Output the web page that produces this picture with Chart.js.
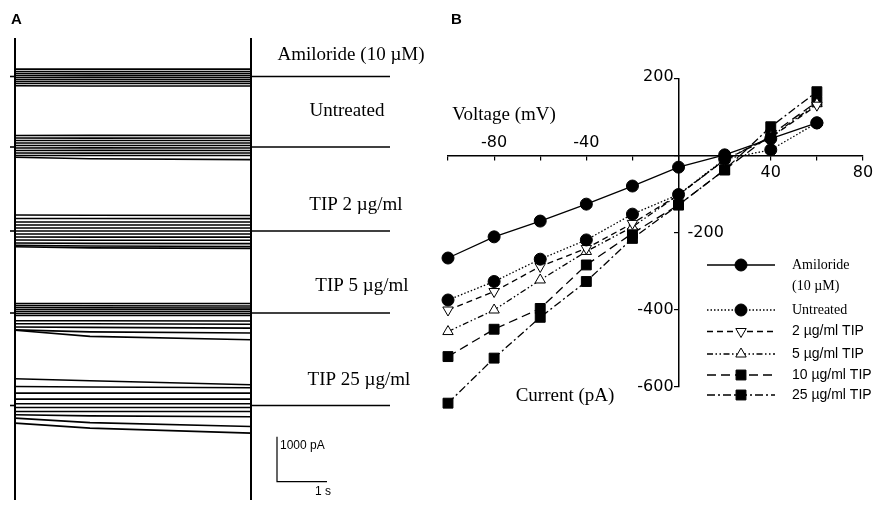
<!DOCTYPE html>
<html><head><meta charset="utf-8">
<script src="https://cdn.jsdelivr.net/npm/chart.js@4/dist/chart.umd.min.js"></script>
<style>
html,body{margin:0;padding:0;background:#fff;}
#wrap{position:relative;width:874px;height:506px;overflow:hidden;background:#fff;}
#ca{position:absolute;left:0;top:0;}
#cb{position:absolute;left:440px;top:0;}
</style></head><body>
<div id="wrap"><canvas id="ca" width="440" height="506"></canvas><canvas id="cb" width="434" height="506"></canvas></div>
<script>
// ================= DATA =================
// ---- Panel A: whole-cell current traces (pA, relative to holding current) ----
const groupLabels = ['Amiloride (10 µM)', 'Untreated', 'TIP 2 µg/ml', 'TIP 5 µg/ml', 'TIP 25 µg/ml'];
const sampleTimes = [0, 1.5, 4.72];        // s, times at which each trace was read
const stepDuration = 4.72;                 // s, voltage step length
const holdBefore = 0.1;                    // s shown before step
const holdAfter = 2.78;                    // s shown after step
const scaleBarCurrent = 1000;              // pA
const scaleBarTime = 1;                    // s

const tracesAmiloride = [[165,165,165],[110,112,110],[68,66,68],[22,24,22],[-22,-20,-22],[-67,-66,-67],[-111,-110,-111],[-155,-156,-155],[-205,-210,-211]];
const tracesUntreated = [[255,258,255],[200,198,200],[144,146,144],[89,90,89],[33,35,33],[-22,-20,-22],[-78,-76,-78],[-133,-135,-133],[-189,-190,-189],[-229,-262,-280]];
const tracesTip2 = [[355,350,345],[278,278,275],[200,200,200],[133,133,133],[67,67,67],[0,0,0],[-67,-67,-67],[-133,-135,-135],[-200,-205,-205],[-266,-275,-280],[-320,-335,-345],[-350,-375,-385]];
const tracesTip5 = [[211,211,211],[166,160,155],[122,118,111],[78,78,78],[33,33,33],[-11,-11,-11],[-55,-55,-55],[-171,-171,-178],[-238,-240,-250],[-311,-320,-335],[-375,-420,-444],[-385,-520,-593]];
const tracesTip25 = [[593,549,460],[422,410,393],[276,276,276],[142,142,142],[38,38,38],[-44,-44,-44],[-133,-133,-133],[-207,-230,-251],[-280,-380,-467],[-391,-502,-613]];

// ---- Panel B: I-V relationship ----
const voltages = [-100, -80, -60, -40, -20, 0, 20, 40, 60];   // mV
const ivAmiloride = [-265, -210, -169, -125, -78, -29, 3, 45, 86];
const ivUntreated = [-374, -326, -268, -218, -151, -100, -8, 16, 86];
const ivTip2 = [-400, -352, -287, -240, -175, -101, -10, 48, 132];
const ivTip5 = [-456, -400, -322, -248, -184, -101, -10, 50, 136];
const ivTip10 = [-521, -450, -396, -283, -201, -127, -36, 55, 141];
const ivTip25 = [-642, -525, -419, -326, -214, -127, -36, 76, 167];
const ivLabels = ['Amiloride', 'Untreated', '2 µg/ml TIP', '5 µg/ml TIP', '10 µg/ml TIP', '25 µg/ml TIP'];
const xTickLabels = [-80, -40, 40, 80];
const yTickLabels = [200, -200, -400, -600];

// ================= LAYOUT / STYLE =================
const SERIF = '"Liberation Serif", "Times New Roman", serif';
const SANS = '"Liberation Sans", Arial, sans-serif';
const PA_PER_PX = 1000 / 45;
const groupBasePx = [76.5, 147, 231, 313, 405.5];
const T0_PX = 15, PX_PER_S = 50;
const frameTopPx = 38, frameBottomPx = 500;
const scaleBarCornerT = 5.24, scaleBarCornerPx = 481.7;
const groupLabelPos = [[351, 55], [347, 111], [356, 205], [362, 286], [359, 380]];

// ================= PANEL A =================
const allTraces = [tracesAmiloride, tracesUntreated, tracesTip2, tracesTip5, tracesTip25];
const dsA = [];
const line = (data, w) => ({data, borderColor:'#000', borderWidth:w, pointRadius:0, tension:0, fill:false, clip:false});
allTraces.forEach((traces, k) => {
  const off = -groupBasePx[k] * PA_PER_PX;
  traces.forEach(tr => dsA.push(line(sampleTimes.map((t, i) => ({x:t, y:off + tr[i]})), 1.6)));
  dsA.push(line([{x:-holdBefore, y:off}, {x:0, y:off}], 1.6));
  dsA.push(line([{x:stepDuration, y:off}, {x:stepDuration + holdAfter, y:off}], 1.6));
});
[0, stepDuration].forEach(t => dsA.push(line([{x:t, y:-frameTopPx*PA_PER_PX}, {x:t, y:-frameBottomPx*PA_PER_PX}], 2)));
{
  const c = -scaleBarCornerPx * PA_PER_PX;
  dsA.push(line([{x:scaleBarCornerT, y:c + scaleBarCurrent}, {x:scaleBarCornerT, y:c}, {x:scaleBarCornerT + scaleBarTime, y:c}], 1.2));
}

const textA = {
  id:'textA',
  afterDraw(chart){
    const ctx = chart.ctx; ctx.save(); ctx.fillStyle = '#000';
    ctx.textBaseline = 'middle';
    ctx.font = 'bold 15px ' + SANS; ctx.textAlign = 'left'; ctx.fillText('A', 11, 20);
    ctx.font = '19px ' + SERIF; ctx.textAlign = 'center';
    groupLabels.forEach((l, k) => ctx.fillText(l, groupLabelPos[k][0], groupLabelPos[k][1]));
    ctx.font = '12px ' + SANS; ctx.textAlign = 'left';
    ctx.fillText(scaleBarCurrent + ' pA', 280, 446);
    ctx.fillText(scaleBarTime + ' s', 315, 492);
    ctx.restore();
  }
};

new Chart(document.getElementById('ca'), {
  type:'line',
  data:{datasets:dsA},
  options:{
    responsive:false, animation:false, devicePixelRatio:1,
    layout:{padding:0},
    plugins:{legend:{display:false}, tooltip:{enabled:false}},
    scales:{
      x:{type:'linear', display:false, min:-T0_PX/PX_PER_S, max:(440 - T0_PX)/PX_PER_S},
      y:{type:'linear', display:false, min:-506*PA_PER_PX, max:0}
    }
  },
  plugins:[textA]
});

// ================= PANEL B =================
const ivSeries = [
  {v:ivAmiloride, dash:[], style:'circle', rot:0, r:6, fill:'#000'},
  {v:ivUntreated, dash:[1.5,2], style:'circle', rot:0, r:6, fill:'#000'},
  {v:ivTip2, dash:[6,4], style:'triangle', rot:180, r:6, fill:'#fff'},
  {v:ivTip5, dash:[6,2.5,1.5,2.5,1.5,2.5], style:'triangle', rot:0, r:6, fill:'#fff'},
  {v:ivTip10, dash:[9,5], style:'rect', rot:0, r:7, fill:'#000'},
  {v:ivTip25, dash:[8,3,2,3], style:'rect', rot:0, r:7, fill:'#000'}
];
const dsB = ivSeries.map((s, k) => ({
  label: ivLabels[k],
  data: voltages.map((v, i) => ({x:v, y:s.v[i]})),
  borderColor:'#000', borderWidth:1.3, borderDash:s.dash, tension:0, fill:false, clip:false,
  pointStyle:s.style, pointRotation:s.rot, pointRadius:s.r, pointBackgroundColor:s.fill,
  pointBorderColor:'#000', pointBorderWidth:1
}));

// draw point elements lying beyond the axis range (e.g. -642 pA) that Chart.js skips
const outsidePoints = {
  id:'outsidePoints',
  afterDatasetsDraw(chart){
    const a = chart.chartArea, big = {left:-1e4, right:1e4, top:-1e4, bottom:1e4};
    chart.data.datasets.forEach((d, i) => {
      chart.getDatasetMeta(i).data.forEach(el => {
        if (el.x < a.left - 1 || el.x > a.right + 1 || el.y < a.top - 1 || el.y > a.bottom + 1) el.draw(chart.ctx, big);
      });
    });
  }
};

const legendRows = [265, 310, 331.5, 354, 375, 395];
const textB = {
  id:'textB',
  afterDraw(chart){
    const ctx = chart.ctx, xs = chart.scales.x, ys = chart.scales.y;
    const x0 = xs.getPixelForValue(0), y0 = ys.getPixelForValue(0);
    ctx.save(); ctx.fillStyle = '#000'; ctx.strokeStyle = '#000';
    ctx.textBaseline = 'middle';
    ctx.font = 'bold 15px ' + SANS; ctx.textAlign = 'left'; ctx.fillText('B', 11, 20);
    // tick labels
    ctx.font = '16px "DejaVu Sans", ' + SANS;
    ctx.textAlign = 'center';
    xTickLabels.forEach(v => {
      const px = xs.getPixelForValue(v);
      ctx.fillText(String(v), px, v < 0 ? y0 - 13 : y0 + 17);
    });
    yTickLabels.forEach(v => {
      const py = ys.getPixelForValue(v);
      if (v === -200) { ctx.textAlign = 'left'; ctx.fillText(String(v), x0 + 9, py); }
      else { ctx.textAlign = 'right'; ctx.fillText(String(v), x0 - 5, py - (v === 200 ? 2 : 0)); }
    });
    // axis titles
    ctx.font = '19px ' + SERIF; ctx.textAlign = 'center';
    ctx.fillText('Voltage (mV)', 64, 115);
    ctx.fillText('Current (pA)', 125, 396);
    // legend
    const lx0 = 267, lx1 = 335, mx = 301, tx = 352;
    dsB.forEach((d, k) => {
      const y = legendRows[k];
      ctx.lineWidth = 1.3; ctx.setLineDash(d.borderDash);
      ctx.beginPath(); ctx.moveTo(lx0, y); ctx.lineTo(lx1, y); ctx.stroke();
      ctx.setLineDash([]);
      ctx.fillStyle = d.pointBackgroundColor; ctx.lineWidth = 1;
      Chart.helpers.drawPoint(ctx, {pointStyle:d.pointStyle, rotation:d.pointRotation, radius:d.pointRadius, borderWidth:1}, mx, y);
      ctx.fillStyle = '#000';
      ctx.textAlign = 'left';
      if (k < 2) { ctx.font = '14px ' + SERIF; } else { ctx.font = '14px ' + SANS; }
      ctx.fillText(d.label, tx, y);
      if (k === 0) ctx.fillText('(10 µM)', tx, 286);
    });
    ctx.restore();
  }
};

new Chart(document.getElementById('cb'), {
  type:'line',
  data:{datasets:dsB},
  options:{
    responsive:false, animation:false, devicePixelRatio:1,
    layout:{padding:{left:8, right:11, top:79, bottom:119}},
    plugins:{legend:{display:false}, tooltip:{enabled:false}},
    scales:{
      x:{type:'linear', min:-100, max:80, position:{y:0},
         ticks:{display:false, stepSize:20},
         grid:{display:true, drawOnChartArea:false, drawTicks:true, tickLength:4, color:'#000', lineWidth:1.2},
         border:{display:true, color:'#000', width:1.5}},
      y:{type:'linear', min:-600, max:200, position:{x:0},
         ticks:{display:false, stepSize:200},
         grid:{display:true, drawOnChartArea:false, drawTicks:true, tickLength:4, color:'#000', lineWidth:1.2},
         border:{display:true, color:'#000', width:1.5}}
    }
  },
  plugins:[outsidePoints, textB]
});
</script>
</body></html>
